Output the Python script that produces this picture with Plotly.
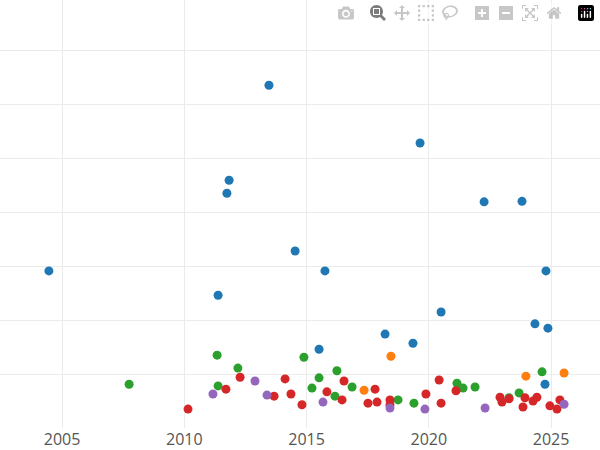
import plotly.graph_objects as go

blue_x = [2004.46, 2013.46, 2011.83, 2011.74, 2014.53, 2015.75, 2011.38, 2019.64, 2022.26,
          2023.81, 2024.79, 2020.50, 2018.21, 2019.35, 2015.51, 2024.34, 2024.87, 2024.75]
blue_y = [2.91, 6.35, 4.59, 4.35, 3.28, 2.91, 2.46, 5.28, 4.19,
          4.20, 2.91, 2.15, 1.74, 1.57, 1.46, 1.93, 1.85, 0.81]

orange_x = [2018.45, 2017.35, 2023.97, 2025.53]
orange_y = [1.33, 0.70, 0.96, 1.02]

green_x = [2007.74, 2011.34, 2012.19, 2011.38, 2014.89, 2016.24, 2015.51, 2015.22, 2016.86,
           2016.16, 2018.74, 2019.39, 2021.15, 2021.40, 2021.89, 2023.28, 2023.69, 2024.63]
green_y = [0.81, 1.35, 1.11, 0.78, 1.31, 1.06, 0.93, 0.74, 0.76,
           0.59, 0.52, 0.46, 0.83, 0.74, 0.76, 0.56, 0.65, 1.04]

red_x = [2010.15, 2011.70, 2012.28, 2013.67, 2014.12, 2014.36, 2014.81, 2015.83, 2016.45,
         2016.53, 2017.51, 2017.88, 2017.80, 2018.41, 2018.41, 2019.88, 2020.42, 2020.50,
         2021.11, 2022.91, 2022.99, 2023.28, 2023.85, 2023.93, 2024.26, 2024.42, 2024.95,
         2025.24, 2025.36]
red_y = [0.35, 0.72, 0.94, 0.59, 0.91, 0.63, 0.43, 0.67, 0.52,
         0.87, 0.46, 0.48, 0.72, 0.52, 0.43, 0.63, 0.89, 0.46,
         0.69, 0.57, 0.48, 0.54, 0.39, 0.56, 0.50, 0.57, 0.41,
         0.35, 0.52]

purple_x = [2011.17, 2012.89, 2013.38, 2015.67, 2018.41, 2019.84, 2022.30, 2025.53]
purple_y = [0.63, 0.87, 0.61, 0.48, 0.37, 0.35, 0.37, 0.44]

groups = [
    (blue_x, blue_y, "#1f77b4"),
    (orange_x, orange_y, "#ff7f0e"),
    (green_x, green_y, "#2ca02c"),
    (red_x, red_y, "#d62728"),
    (purple_x, purple_y, "#9467bd"),
]

fig = go.Figure()
for xs, ys, col in groups:
    fig.add_trace(go.Scatter(x=xs, y=ys, mode="markers",
                             marker=dict(color=col, size=9)))

fig.update_layout(
    template="plotly_white",
    width=600,
    height=450,
    margin=dict(l=0, r=0, t=0, b=22),
    showlegend=False,
    font=dict(family="Open Sans", size=16, color="#555"),
)
fig.update_xaxes(range=[2002.46, 2027.0], tickvals=[2005, 2010, 2015, 2020, 2025],
                 gridcolor="#ebebeb", zeroline=False, showline=False, ticklabelstandoff=0)
fig.update_yaxes(range=[0, 7.93], dtick=1, showticklabels=False,
                 gridcolor="#ebebeb", zeroline=False)

# remove the default page margin so the chart fills the window
fig.write_html("out.html", post_script="document.body.style.margin='0';")
